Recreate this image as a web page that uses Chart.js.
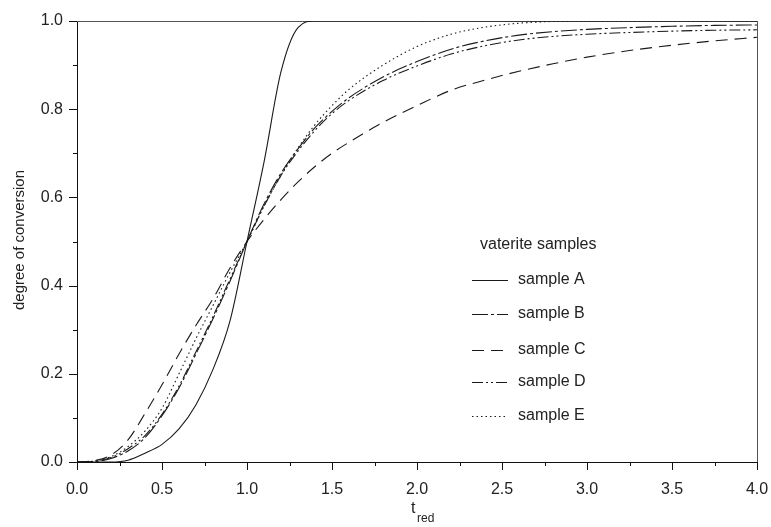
<!DOCTYPE html>
<html>
<head>
<meta charset="utf-8">
<script src="https://cdn.jsdelivr.net/npm/chart.js@4"></script>
<style>
  body { margin: 0; background: #fff; }
</style>
</head>
<body>
<canvas id="myChart" width="771" height="527"></canvas>
<script>
// t_red values shared by all curves
const tRed = [0, 0.1, 0.2, 0.3, 0.4, 0.5, 0.6, 0.7, 0.8, 0.9, 1.0, 1.1, 1.2, 1.3, 1.4, 1.5, 1.6, 1.8, 2.0, 2.2, 2.4, 2.6, 2.8, 3.0, 3.25, 3.5, 3.75, 4.0];

// degree of conversion for each sample
const sampleA = [0, 0, 0, 0.004, 0.02, 0.04, 0.075, 0.13, 0.21, 0.32, 0.5, 0.68, 0.885, 0.985, 1, 1, 1, 1, 1, 1, 1, 1, 1, 1, 1, 1, 1, 1];
const sampleB = [0, 0.001, 0.008, 0.025, 0.055, 0.105, 0.168, 0.245, 0.325, 0.41, 0.5, 0.585, 0.655, 0.71, 0.758, 0.795, 0.826, 0.873, 0.908, 0.936, 0.955, 0.968, 0.976, 0.981, 0.985, 0.988, 0.99, 0.991];
const sampleC = [0, 0.003, 0.016, 0.05, 0.11, 0.175, 0.245, 0.31, 0.37, 0.44, 0.5, 0.55, 0.595, 0.635, 0.67, 0.7, 0.725, 0.77, 0.808, 0.843, 0.866, 0.886, 0.903, 0.918, 0.933, 0.945, 0.955, 0.963];
const sampleD = [0, 0.002, 0.01, 0.03, 0.06, 0.108, 0.172, 0.25, 0.33, 0.415, 0.5, 0.58, 0.65, 0.705, 0.752, 0.79, 0.82, 0.865, 0.898, 0.925, 0.944, 0.957, 0.965, 0.97, 0.974, 0.977, 0.979, 0.98];
const sampleE = [0, 0.002, 0.012, 0.035, 0.07, 0.122, 0.2, 0.28, 0.355, 0.43, 0.5, 0.58, 0.65, 0.712, 0.765, 0.808, 0.845, 0.9, 0.942, 0.97, 0.986, 0.995, 0.999, 1, 1, 1, 1, 1];

const names = ['sample A', 'sample B', 'sample C', 'sample D', 'sample E'];
const legendTitle = 'vaterite samples';
const yTitle = 'degree of conversion';

const FONT = '"Liberation Sans", Arial, sans-serif';
const dashes = [[], [16, 3, 3, 3], [12, 7], [11, 3, 2, 3, 2, 3], [1.5, 3]];
const series = [sampleA, sampleB, sampleC, sampleD, sampleE];

function pts(ys) {
  return tRed.map((t, i) => ({ x: t, y: ys[i] }));
}

const datasets = series.map((ys, i) => ({
  label: names[i],
  data: pts(ys),
  xAxisID: 'x',
  yAxisID: 'y',
  borderColor: '#1a1a1a',
  borderWidth: 1.1,
  borderDash: dashes[i],
  pointRadius: 0,
  fill: false,
  cubicInterpolationMode: 'monotone'
}));

// tick marks, titles and the legend box
const extras = {
  id: 'extras',
  afterDraw(chart) {
    const ctx = chart.ctx;
    const xs = chart.scales.x, ys = chart.scales.y;
    const left = Math.round(xs.getPixelForValue(0));
    const bottom = Math.round(ys.getPixelForValue(0));
    ctx.save();
    ctx.setLineDash([]);

    ctx.fillStyle = '#111';
    xs.ticks.forEach(t => {
      const px = Math.round(xs.getPixelForValue(t.value));
      const major = Math.abs(t.value * 2 - Math.round(t.value * 2)) < 1e-6;
      ctx.fillRect(px, bottom, 1, major ? 8 : 4);
    });
    ys.ticks.forEach(t => {
      const py = Math.round(ys.getPixelForValue(t.value));
      const major = Math.abs(t.value * 5 - Math.round(t.value * 5)) < 1e-6;
      const len = major ? 8 : 4;
      ctx.fillRect(left - len, py, len, 1);
    });

    ctx.fillStyle = '#222';
    // y title
    ctx.save();
    ctx.translate(20, 240);
    ctx.rotate(-Math.PI / 2);
    ctx.font = '15px ' + FONT;
    ctx.textAlign = 'center';
    ctx.textBaseline = 'middle';
    ctx.fillText(yTitle, 0, 0);
    ctx.restore();

    // x title t_red
    ctx.textBaseline = 'alphabetic';
    ctx.textAlign = 'left';
    ctx.font = '16px ' + FONT;
    ctx.fillText('t', 411, 513);
    ctx.font = '12px ' + FONT;
    ctx.fillText('red', 417, 522);

    // legend
    ctx.font = '16px ' + FONT;
    ctx.textBaseline = 'middle';
    ctx.fillText(legendTitle, 480, 245);
    const rows = [280, 314, 350, 382, 416];
    datasets.forEach((d, i) => {
      ctx.strokeStyle = '#1a1a1a';
      ctx.lineWidth = 1.1;
      ctx.setLineDash(d.borderDash);
      ctx.beginPath();
      ctx.moveTo(472, rows[i] + 0.5);
      ctx.lineTo(508, rows[i] + 0.5);
      ctx.stroke();
      ctx.setLineDash([]);
      ctx.fillText(d.label, 518, rows[i]);
    });
    ctx.restore();
  }
};

new Chart(document.getElementById('myChart'), {
  type: 'line',
  data: { datasets: datasets },
  options: {
    responsive: false,
    animation: false,
    layout: { padding: { top: 21, right: 14, left: 0, bottom: 0 } },
    plugins: { legend: { display: false }, tooltip: { enabled: false } },
    scales: {
      x: {
        type: 'linear',
        position: 'bottom',
        min: 0,
        max: 4,
        // tickLength only spaces the labels; the marks are drawn by the plugin
        grid: { display: false, drawTicks: true, tickLength: 18 },
        border: { display: true, color: '#111', width: 1 },
        ticks: {
          stepSize: 0.25,
          padding: 0,
          maxRotation: 0,
          autoSkip: false,
          color: '#222',
          font: { family: FONT, size: 16 },
          callback: v => (Math.abs(v * 2 - Math.round(v * 2)) < 1e-6 ? v.toFixed(1) : '')
        },
        afterFit: s => { s.height = 65; }
      },
      y: {
        position: 'left',
        min: 0,
        max: 1,
        grid: { display: false, drawTicks: true, tickLength: 14 },
        border: { display: true, color: '#111', width: 1 },
        ticks: {
          stepSize: 0.1,
          padding: 0,
          autoSkip: false,
          color: '#222',
          font: { family: FONT, size: 16 },
          callback: v => (Math.abs(v * 5 - Math.round(v * 5)) < 1e-6 ? v.toFixed(1) : '')
        },
        afterFit: s => { s.width = 77; }
      },
      // empty axes that only draw the top and right edges of the frame
      xTop: {
        type: 'linear',
        position: 'top',
        min: 0,
        max: 4,
        grid: { display: false, drawTicks: false },
        border: { display: true, color: '#555', width: 1 },
        ticks: { display: false }
      },
      yRight: {
        type: 'linear',
        position: 'right',
        min: 0,
        max: 1,
        grid: { display: false, drawTicks: false },
        border: { display: true, color: '#555', width: 1 },
        ticks: { display: false }
      }
    }
  },
  plugins: [extras]
});
</script>
</body>
</html>
